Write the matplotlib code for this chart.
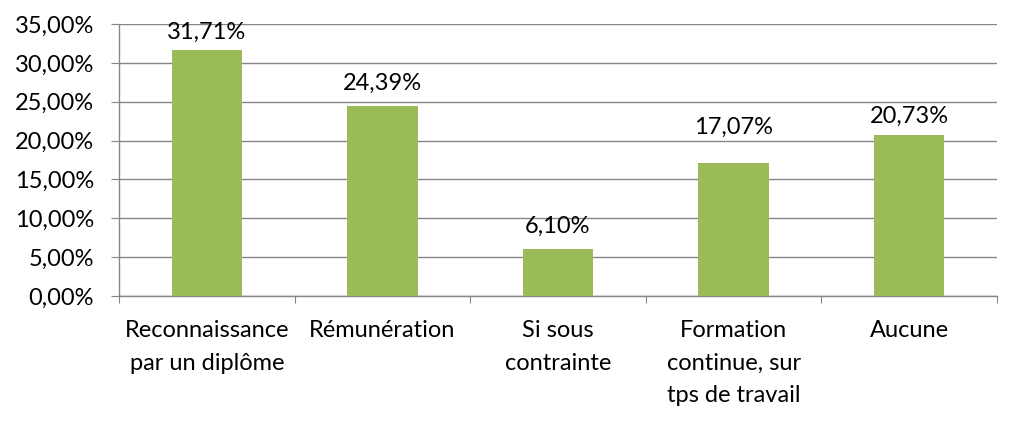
import matplotlib
matplotlib.use("Agg")
import matplotlib.pyplot as plt
from matplotlib.ticker import FuncFormatter, MultipleLocator

categories = ["Reconnaissance\npar un diplôme", "Rémunération", "Si sous\ncontrainte",
              "Formation\ncontinue, sur\ntps de travail", "Aucune"]
values = [31.71, 24.39, 6.10, 17.07, 20.73]
label_offsets_pt = [5.0, 9.3, 8.6, 18.0, 5.7]

plt.rcParams['font.family'] = ['Lato', 'DejaVu Sans']
fig = plt.figure(figsize=(10.11, 4.23), dpi=100)
ax = fig.add_axes([119/1011, 1 - 296/423, (997-119)/1011, (296-24)/423])

x = list(range(len(values)))
ax.bar(x, values, width=0.4, color="#9BBB59", zorder=3)
for xi, v, off in zip(x, values, label_offsets_pt):
    ax.annotate(f"{v:.2f}%".replace(".", ","), (xi, v), xytext=(0, off), textcoords="offset points",
                ha="center", va="bottom", fontsize=17, color="#000000", annotation_clip=False)

ax.set_xlim(-0.5, len(values) - 0.5)
ax.set_ylim(0, 35)
ax.yaxis.set_major_locator(MultipleLocator(5))
ax.yaxis.set_major_formatter(FuncFormatter(lambda v, p: f"{v:.2f}%".replace(".", ",")))
ax.grid(axis="y", color="#868686", linewidth=1, zorder=0)
for s in ["top", "right"]:
    ax.spines[s].set_visible(False)
for s in ["left", "bottom"]:
    ax.spines[s].set_color("#868686")
    ax.spines[s].set_linewidth(1)

ax.set_xticks([i - 0.5 for i in range(len(values) + 1)])
ax.set_xticklabels([])
ax.set_xticks(x, minor=True)
ax.set_xticklabels(categories, minor=True, fontsize=17, linespacing=1.68, va="top")
ax.tick_params(axis="x", which="major", length=5, color="#868686", direction="out")
ax.tick_params(axis="x", which="minor", length=0, pad=17.5)
ax.tick_params(axis="y", length=6, color="#868686", labelsize=17, pad=12)

fig.savefig("out.png", dpi=100)
